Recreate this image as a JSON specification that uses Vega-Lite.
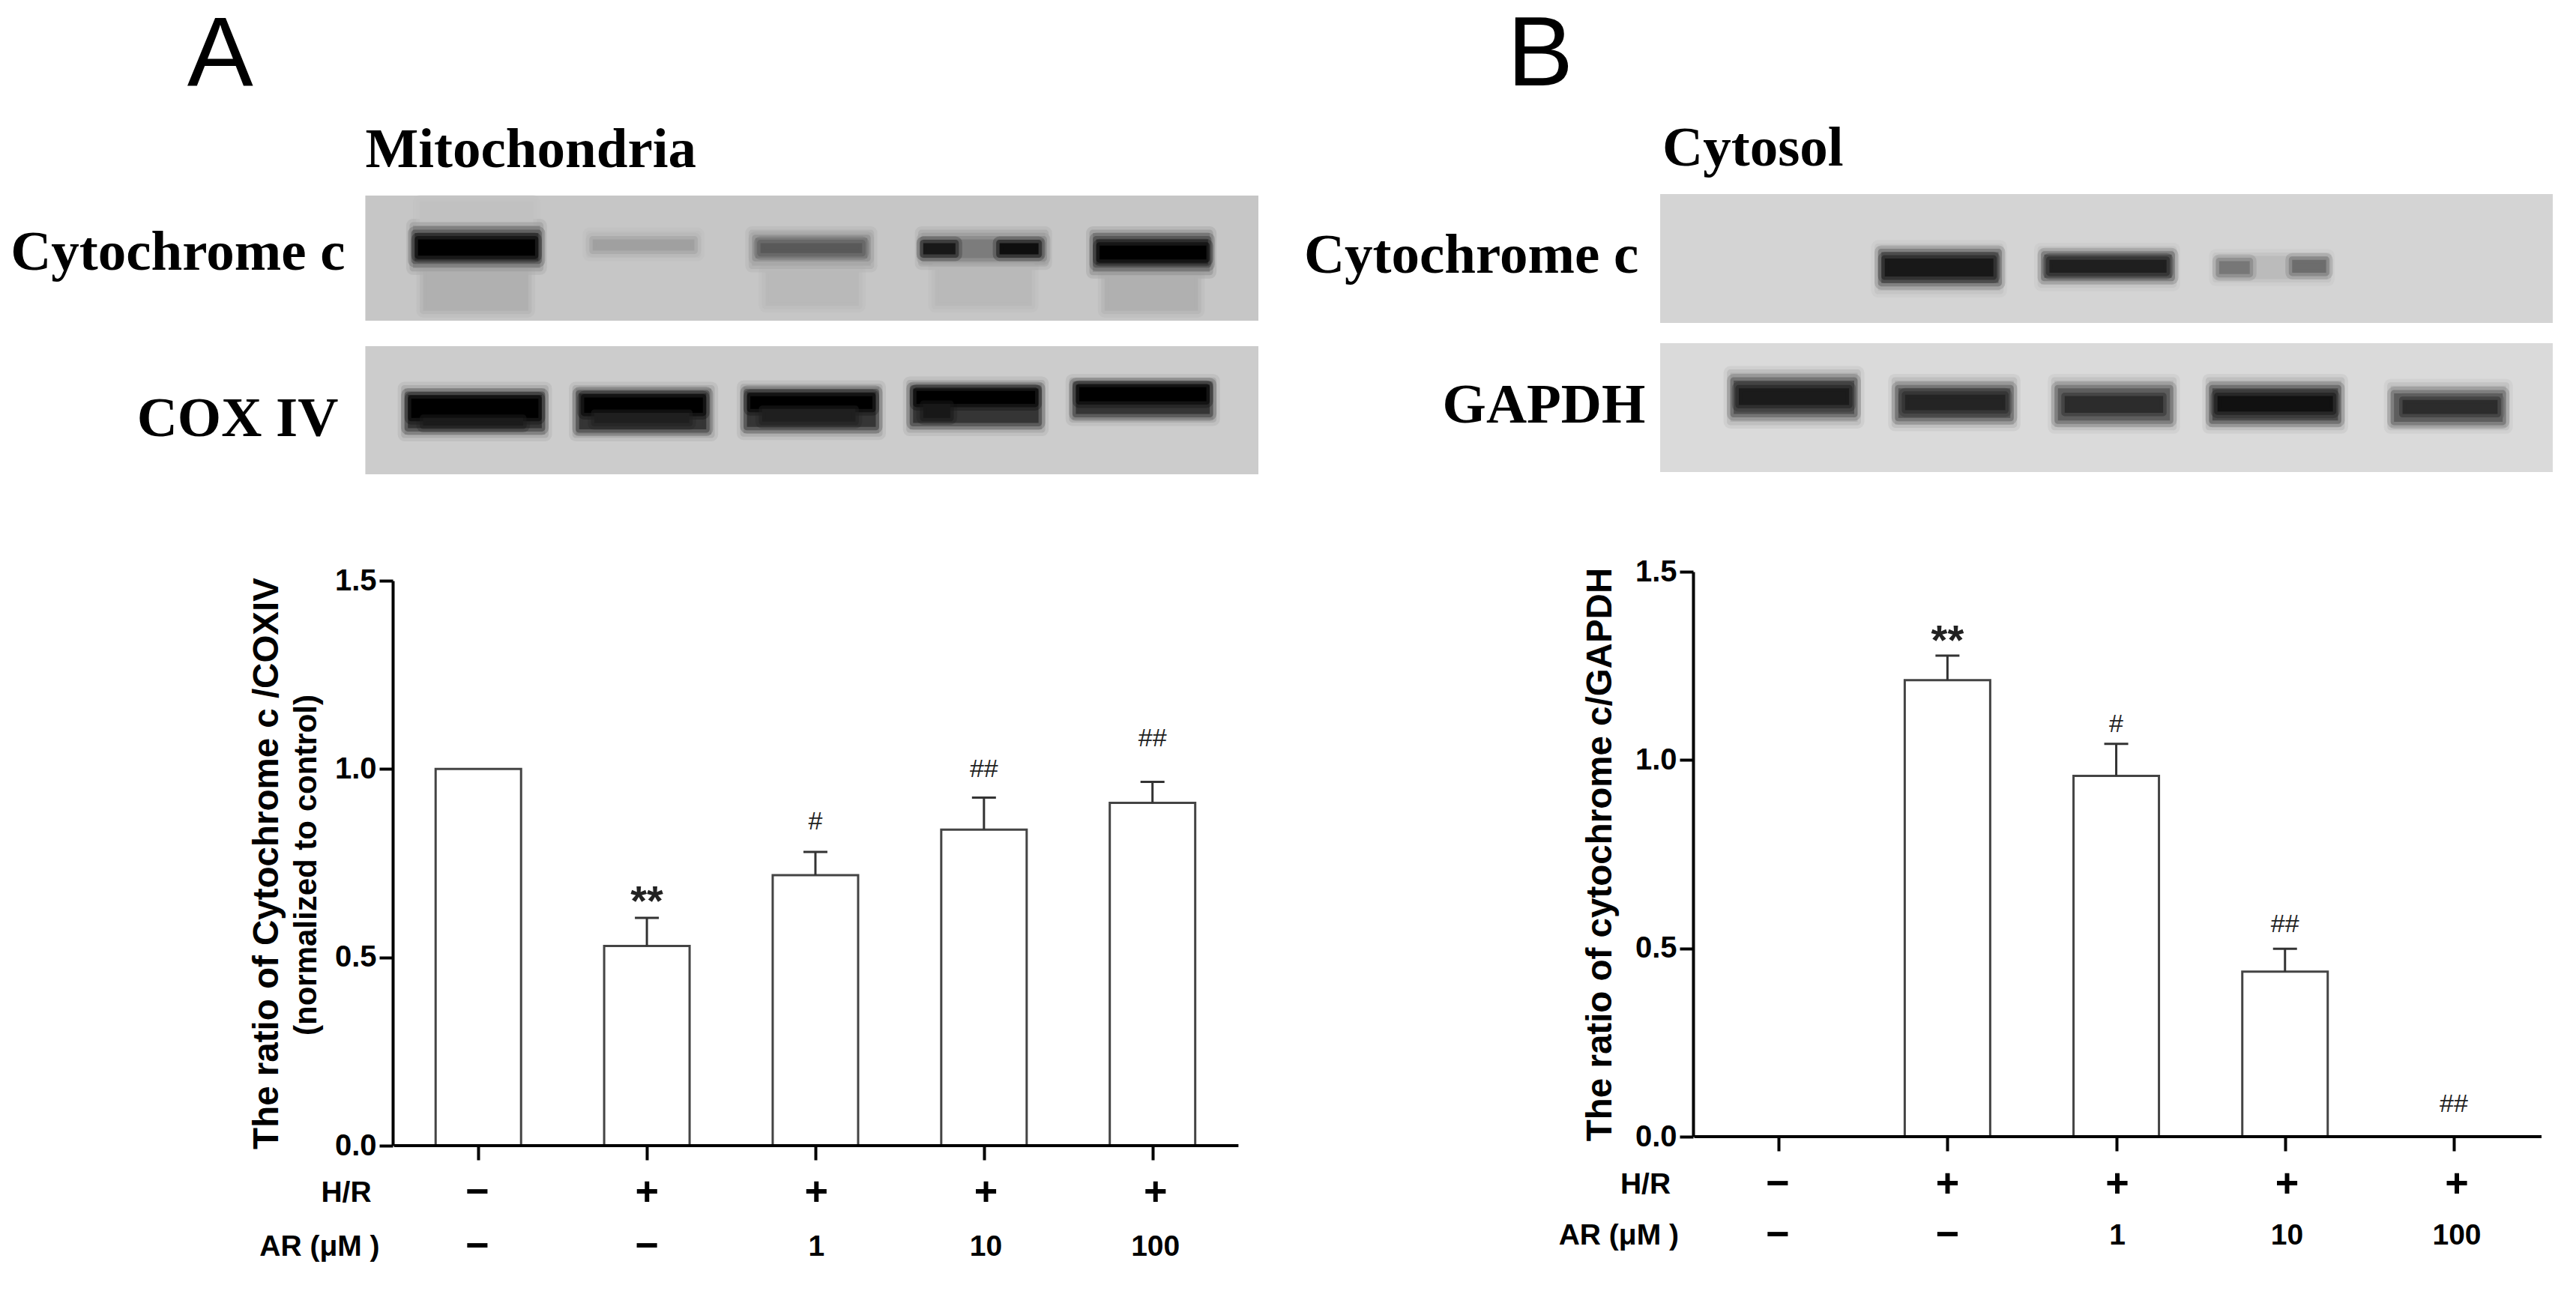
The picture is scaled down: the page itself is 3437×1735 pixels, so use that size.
{
"$schema":"https://vega.github.io/schema/vega-lite/v6.json",
"background":"white","padding":0,"autosize":"pad",
"config":{"view":{"stroke":null},"axis":{"grid":false},"concat":{"spacing":0},"text":{"font":"Liberation Sans"}},
"datasets":{
"bands":[
{"blot":"A1","x0":0.339,"x1":5.607,"y0":0,"y1":100,"d":20},
{"blot":"A1","x0":0.66,"x1":1.33,"y0":5,"y1":24,"d":22},
{"blot":"A1","x0":0.68,"x1":1.3,"y0":58,"y1":92,"d":28},
{"blot":"A1","x0":0.62,"x1":1.37,"y0":24,"y1":58,"d":38},
{"blot":"A1","x0":0.63,"x1":1.36,"y0":30,"y1":52,"d":72},
{"blot":"A1","x0":0.65,"x1":1.34,"y0":35,"y1":48,"d":100},
{"blot":"A1","x0":1.66,"x1":2.3,"y0":31,"y1":47,"d":25},
{"blot":"A1","x0":1.68,"x1":2.28,"y0":35,"y1":44,"d":34},
{"blot":"A1","x0":2.7,"x1":3.25,"y0":60,"y1":88,"d":25},
{"blot":"A1","x0":2.62,"x1":3.32,"y0":30,"y1":56,"d":31},
{"blot":"A1","x0":2.64,"x1":3.3,"y0":34,"y1":50,"d":45},
{"blot":"A1","x0":2.67,"x1":3.27,"y0":38,"y1":46,"d":62},
{"blot":"A1","x0":3.7,"x1":4.27,"y0":56,"y1":88,"d":25},
{"blot":"A1","x0":3.62,"x1":4.35,"y0":30,"y1":54,"d":34},
{"blot":"A1","x0":3.63,"x1":4.34,"y0":35,"y1":50,"d":48},
{"blot":"A1","x0":3.63,"x1":3.82,"y0":38,"y1":47,"d":92},
{"blot":"A1","x0":4.08,"x1":4.31,"y0":38,"y1":47,"d":96},
{"blot":"A1","x0":4.7,"x1":5.25,"y0":62,"y1":92,"d":28},
{"blot":"A1","x0":4.63,"x1":5.32,"y0":30,"y1":61,"d":42},
{"blot":"A1","x0":4.65,"x1":5.31,"y0":35,"y1":55,"d":75},
{"blot":"A1","x0":4.67,"x1":5.3,"y0":40,"y1":51,"d":100},
{"blot":"A2","x0":0.339,"x1":5.607,"y0":0,"y1":100,"d":18},
{"blot":"A2","x0":0.57,"x1":1.4,"y0":33,"y1":69,"d":36},
{"blot":"A2","x0":0.59,"x1":1.38,"y0":38,"y1":64,"d":78},
{"blot":"A2","x0":0.61,"x1":1.36,"y0":41,"y1":56,"d":100},
{"blot":"A2","x0":0.68,"x1":1.27,"y0":56,"y1":62,"d":90},
{"blot":"A2","x0":1.58,"x1":2.38,"y0":33,"y1":69,"d":36},
{"blot":"A2","x0":1.6,"x1":2.35,"y0":37,"y1":65,"d":78},
{"blot":"A2","x0":1.63,"x1":2.33,"y0":40,"y1":52,"d":100},
{"blot":"A2","x0":1.69,"x1":2.25,"y0":52,"y1":60,"d":88},
{"blot":"A2","x0":2.57,"x1":3.37,"y0":32,"y1":68,"d":36},
{"blot":"A2","x0":2.59,"x1":3.35,"y0":36,"y1":63,"d":78},
{"blot":"A2","x0":2.61,"x1":3.33,"y0":39,"y1":49,"d":100},
{"blot":"A2","x0":2.68,"x1":3.23,"y0":49,"y1":59,"d":88},
{"blot":"A2","x0":3.55,"x1":4.33,"y0":29,"y1":65,"d":36},
{"blot":"A2","x0":3.57,"x1":4.31,"y0":33,"y1":60,"d":78},
{"blot":"A2","x0":3.59,"x1":4.29,"y0":35,"y1":45,"d":100},
{"blot":"A2","x0":3.63,"x1":3.79,"y0":45,"y1":56,"d":92},
{"blot":"A2","x0":4.51,"x1":5.34,"y0":27,"y1":57,"d":36},
{"blot":"A2","x0":4.53,"x1":5.32,"y0":30,"y1":53,"d":78},
{"blot":"A2","x0":4.55,"x1":5.3,"y0":32,"y1":43,"d":100},
{"blot":"B1","x0":0.307,"x1":5.565,"y0":0,"y1":100,"d":15},
{"blot":"B1","x0":1.59,"x1":2.31,"y0":41,"y1":75,"d":24},
{"blot":"B1","x0":1.61,"x1":2.3,"y0":45,"y1":69,"d":60},
{"blot":"B1","x0":1.63,"x1":2.27,"y0":50,"y1":64,"d":92},
{"blot":"B1","x0":2.55,"x1":3.33,"y0":43,"y1":70,"d":24},
{"blot":"B1","x0":2.57,"x1":3.32,"y0":47,"y1":65,"d":60},
{"blot":"B1","x0":2.6,"x1":3.29,"y0":51,"y1":61,"d":88},
{"blot":"B1","x0":3.58,"x1":4.24,"y0":48,"y1":66,"d":24},
{"blot":"B1","x0":3.6,"x1":3.78,"y0":52,"y1":62,"d":50},
{"blot":"B1","x0":4.03,"x1":4.23,"y0":51,"y1":61,"d":54},
{"blot":"B2","x0":0.307,"x1":5.565,"y0":0,"y1":100,"d":13},
{"blot":"B2","x0":0.72,"x1":1.47,"y0":23,"y1":61,"d":28},
{"blot":"B2","x0":0.74,"x1":1.45,"y0":29,"y1":55,"d":66},
{"blot":"B2","x0":0.77,"x1":1.42,"y0":35,"y1":48,"d":90},
{"blot":"B2","x0":1.69,"x1":2.39,"y0":29,"y1":63,"d":28},
{"blot":"B2","x0":1.71,"x1":2.37,"y0":35,"y1":58,"d":64},
{"blot":"B2","x0":1.75,"x1":2.34,"y0":40,"y1":52,"d":86},
{"blot":"B2","x0":2.63,"x1":3.33,"y0":29,"y1":65,"d":26},
{"blot":"B2","x0":2.65,"x1":3.31,"y0":35,"y1":60,"d":60},
{"blot":"B2","x0":2.69,"x1":3.27,"y0":41,"y1":54,"d":82},
{"blot":"B2","x0":3.54,"x1":4.32,"y0":29,"y1":65,"d":28},
{"blot":"B2","x0":3.56,"x1":4.3,"y0":35,"y1":60,"d":68},
{"blot":"B2","x0":3.59,"x1":4.27,"y0":41,"y1":53,"d":95},
{"blot":"B2","x0":4.61,"x1":5.29,"y0":33,"y1":65,"d":26},
{"blot":"B2","x0":4.63,"x1":5.27,"y0":39,"y1":61,"d":60},
{"blot":"B2","x0":4.68,"x1":5.24,"y0":44,"y1":55,"d":82}
],
"barsA":[
{"lane":1,"ratio":1.0,"upper":1.0},
{"lane":2,"ratio":0.53,"upper":0.605,"sig":"**","kind":"star","sigy":0.646},
{"lane":3,"ratio":0.718,"upper":0.78,"sig":"#","kind":"hash","sigy":0.859},
{"lane":4,"ratio":0.839,"upper":0.924,"sig":"##","kind":"hash","sigy":0.999},
{"lane":5,"ratio":0.91,"upper":0.966,"sig":"##","kind":"hash","sigy":1.08}
],
"barsB":[
{"lane":1,"ratio":0,"upper":0},
{"lane":2,"ratio":1.212,"upper":1.277,"sig":"**","kind":"star","sigy":1.315},
{"lane":3,"ratio":0.958,"upper":1.043,"sig":"#","kind":"hash","sigy":1.094},
{"lane":4,"ratio":0.438,"upper":0.499,"sig":"##","kind":"hash","sigy":0.563},
{"lane":5,"ratio":0,"upper":0,"sig":"##","kind":"hash","sigy":0.086}
],
"table":[
{"row":"hr","lane":1,"t":"−","kind":"sign"},{"row":"hr","lane":2,"t":"+","kind":"sign"},{"row":"hr","lane":3,"t":"+","kind":"sign"},{"row":"hr","lane":4,"t":"+","kind":"sign"},{"row":"hr","lane":5,"t":"+","kind":"sign"},
{"row":"ar","lane":1,"t":"−","kind":"sign"},{"row":"ar","lane":2,"t":"−","kind":"sign"},{"row":"ar","lane":3,"t":"1","kind":"num"},{"row":"ar","lane":4,"t":"10","kind":"num"},{"row":"ar","lane":5,"t":"100","kind":"num"}
]
},
"hconcat":[
{"vconcat":[
 {"width":1710,"height":234,"data":{"values":[{"row":"panel","lane":-0.517,"t":"A"}]},"layer":[
  {"mark":{"type":"text","fontSize":132,"dy":16},"encoding":{"x":{"field":"lane","type":"quantitative","scale":{"domain":[-1.816,5.744],"nice":false,"zero":false},"axis":null},"y":{"field":"row","type":"nominal","scale":{"domain":["panel","fraction"]},"axis":null},"text":{"field":"t"}}},
  {"data":{"values":[{"row":"fraction","lane":0.339,"t":"Mitochondria"}]},"mark":{"type":"text","align":"left","font":"Liberation Serif","fontWeight":"bold","fontSize":75,"dy":24},"encoding":{"x":{"field":"lane","type":"quantitative"},"y":{"field":"row","type":"nominal"},"text":{"field":"t"}}}
 ]},
 {"width":1710,"height":174,"layer":[
  {"data":{"name":"bands"},"transform":[{"filter":"datum.blot==='A1'"}],
   "encoding":{"x":{"field":"x0","type":"quantitative","scale":{"domain":[-1.816,5.744],"nice":false,"zero":false},"axis":null},"x2":{"field":"x1"},"y":{"field":"y0","type":"quantitative","scale":{"domain":[0,104.2],"reverse":true,"nice":false},"axis":null},"y2":{"field":"y1"},"color":{"field":"d","type":"quantitative","scale":{"domain":[0,100],"range":["#ffffff","#000000"]},"legend":null},"stroke":{"field":"d","type":"quantitative","scale":{"domain":[0,100],"range":["#ffffff","#000000"]},"legend":null}},
   "layer":[
    {"transform":[{"filter":"datum.x1-datum.x0>=2"}],"mark":{"type":"rect","strokeWidth":0}},
    {"transform":[{"filter":"datum.x1-datum.x0<2 && datum.d<50"}],"layer":[{"mark":{"type":"rect","fillOpacity":0,"strokeWidth":18,"strokeOpacity":0.25,"strokeJoin":"round"}},{"mark":{"type":"rect","strokeWidth":9,"strokeOpacity":0.5,"strokeJoin":"round"}}]},
    {"transform":[{"filter":"datum.x1-datum.x0<2 && datum.d>=50 && datum.d<85"}],"layer":[{"mark":{"type":"rect","fillOpacity":0,"strokeWidth":18,"strokeOpacity":0.25,"strokeJoin":"round"}},{"mark":{"type":"rect","strokeWidth":9,"strokeOpacity":0.5,"strokeJoin":"round"}}]},
    {"transform":[{"filter":"datum.x1-datum.x0<2 && datum.d>=85"}],"layer":[{"mark":{"type":"rect","fillOpacity":0,"strokeWidth":18,"strokeOpacity":0.25,"strokeJoin":"round"}},{"mark":{"type":"rect","strokeWidth":9,"strokeOpacity":0.5,"strokeJoin":"round"}}]}
   ]},
  {"data":{"values":[{"lane":0.22,"pos":45.5,"t":"Cytochrome c"}]},"mark":{"type":"text","align":"right","font":"Liberation Serif","fontWeight":"bold","fontSize":75},"encoding":{"x":{"field":"lane","type":"quantitative"},"y":{"field":"pos","type":"quantitative"},"text":{"field":"t"}}}
 ]},
 {"width":1710,"height":286,"layer":[
  {"data":{"name":"bands"},"transform":[{"filter":"datum.blot==='A2'"}],
   "encoding":{"x":{"field":"x0","type":"quantitative","scale":{"domain":[-1.816,5.744],"nice":false,"zero":false},"axis":null},"x2":{"field":"x1"},"y":{"field":"y0","type":"quantitative","scale":{"domain":[0,167.3],"reverse":true,"nice":false},"axis":null},"y2":{"field":"y1"},"color":{"field":"d","type":"quantitative","scale":{"domain":[0,100],"range":["#ffffff","#000000"]},"legend":null},"stroke":{"field":"d","type":"quantitative","scale":{"domain":[0,100],"range":["#ffffff","#000000"]},"legend":null}},
   "layer":[
    {"transform":[{"filter":"datum.x1-datum.x0>=2"}],"mark":{"type":"rect","strokeWidth":0}},
    {"transform":[{"filter":"datum.x1-datum.x0<2 && datum.d<50"}],"layer":[{"mark":{"type":"rect","fillOpacity":0,"strokeWidth":18,"strokeOpacity":0.25,"strokeJoin":"round"}},{"mark":{"type":"rect","strokeWidth":9,"strokeOpacity":0.5,"strokeJoin":"round"}}]},
    {"transform":[{"filter":"datum.x1-datum.x0<2 && datum.d>=50 && datum.d<85"}],"layer":[{"mark":{"type":"rect","fillOpacity":0,"strokeWidth":18,"strokeOpacity":0.25,"strokeJoin":"round"}},{"mark":{"type":"rect","strokeWidth":9,"strokeOpacity":0.5,"strokeJoin":"round"}}]},
    {"transform":[{"filter":"datum.x1-datum.x0<2 && datum.d>=85"}],"layer":[{"mark":{"type":"rect","fillOpacity":0,"strokeWidth":18,"strokeOpacity":0.25,"strokeJoin":"round"}},{"mark":{"type":"rect","strokeWidth":9,"strokeOpacity":0.5,"strokeJoin":"round"}}]}
   ]},
  {"data":{"values":[{"lane":0.18,"pos":57,"t":"COX IV"}]},"mark":{"type":"text","align":"right","font":"Liberation Serif","fontWeight":"bold","fontSize":75},"encoding":{"x":{"field":"lane","type":"quantitative"},"y":{"field":"pos","type":"quantitative"},"text":{"field":"t"}}}
 ]},
 {"width":1710,"height":754,"data":{"name":"barsA"},"layer":[
  {"mark":{"type":"bar","size":114,"fill":"white","stroke":"#444444","strokeWidth":3},"encoding":{"x":{"field":"lane","type":"quantitative","scale":{"domain":[-1.816,5.744],"nice":false,"zero":false},"axis":{"values":[1,2,3,4,5],"labels":false,"domain":false,"ticks":true,"tickSize":19,"tickWidth":4,"tickColor":"black","title":null,"grid":false}},"y":{"field":"ratio","type":"quantitative","scale":{"domain":[0,1.5],"nice":false},"axis":{"values":[0,0.5,1,1.5],"format":".1f","offset":-524,"domainWidth":4,"domainColor":"black","tickColor":"black","tickSize":18,"tickWidth":4,"labelFont":"Liberation Sans","labelFontWeight":"bold","labelFontSize":40,"labelColor":"black","labelPadding":4,"title":"The ratio of Cytochrome c /COXIV","titleFont":"Liberation Sans","titleFontWeight":"bold","titleFontSize":47.5,"titleColor":"black","titlePadding":66}}}},
  {"mark":{"type":"rule","stroke":"#333333","strokeWidth":3},"encoding":{"x":{"field":"lane","type":"quantitative"},"y":{"field":"ratio","type":"quantitative"},"y2":{"field":"upper"}}},
  {"mark":{"type":"tick","orient":"horizontal","size":32,"thickness":3,"color":"#333333","opacity":1},"transform":[{"filter":"datum.lane>1"}],"encoding":{"x":{"field":"lane","type":"quantitative"},"y":{"field":"upper","type":"quantitative"}}},
  {"data":{"values":[{"start":0.5,"end":5.51,"base":0}]},"mark":{"type":"rule","color":"black","strokeWidth":4},"encoding":{"x":{"field":"start","type":"quantitative"},"x2":{"field":"end"},"y":{"field":"base","type":"quantitative"}}},
  {"transform":[{"filter":"datum.kind==='star'"}],"mark":{"type":"text","fontWeight":"bold","fontSize":56,"color":"#222222"},"encoding":{"x":{"field":"lane","type":"quantitative"},"y":{"field":"sigy","type":"quantitative"},"text":{"field":"sig"}}},
  {"transform":[{"filter":"datum.kind==='hash'"}],"mark":{"type":"text","fontSize":34,"color":"#222222"},"encoding":{"x":{"field":"lane","type":"quantitative"},"y":{"field":"sigy","type":"quantitative"},"text":{"field":"sig"}}},
  {"data":{"values":[{"lane":-0.02,"ratio":0.745,"t":"(normalized to control)"}]},"mark":{"type":"text","angle":270,"font":"Liberation Sans","fontWeight":"bold","fontSize":42},"encoding":{"x":{"field":"lane","type":"quantitative"},"y":{"field":"ratio","type":"quantitative"},"text":{"field":"t"}}}
 ]},
 {"width":1710,"height":144,"layer":[
  {"data":{"name":"table"},"transform":[{"filter":"datum.kind==='sign'"}],"mark":{"type":"text","fontWeight":"bold","color":"black","fontSize":54},"encoding":{"x":{"field":"lane","type":"quantitative","scale":{"domain":[-1.816,5.744],"nice":false,"zero":false},"axis":null},"y":{"field":"row","type":"nominal","scale":{"domain":["hr","ar"]},"axis":null},"text":{"field":"t"}}},
  {"data":{"name":"table"},"transform":[{"filter":"datum.kind==='num'"}],"mark":{"type":"text","fontWeight":"bold","color":"black","fontSize":39},"encoding":{"x":{"field":"lane","type":"quantitative"},"y":{"field":"row","type":"nominal"},"text":{"field":"t"}}},
  {"data":{"values":[{"row":"hr","lane":0.375,"t":"H/R"},{"row":"ar","lane":0.4235,"t":"AR (μM )"}]},"mark":{"type":"text","align":"right","fontWeight":"bold","fontSize":39},"encoding":{"x":{"field":"lane","type":"quantitative"},"y":{"field":"row","type":"nominal"},"text":{"field":"t"}}}
 ]}
],"spacing":27,"bounds":"flush"},
{"vconcat":[
 {"width":1727,"height":232,"data":{"values":[{"row":"panel","lane":-0.4,"t":"B"}]},"layer":[
  {"mark":{"type":"text","fontSize":132,"dy":16},"encoding":{"x":{"field":"lane","type":"quantitative","scale":{"domain":[-1.923,5.702],"nice":false,"zero":false},"axis":null},"y":{"field":"row","type":"nominal","scale":{"domain":["panel","fraction"]},"axis":null},"text":{"field":"t"}}},
  {"data":{"values":[{"row":"fraction","lane":0.32,"t":"Cytosol"}]},"mark":{"type":"text","align":"left","font":"Liberation Serif","fontWeight":"bold","fontSize":75,"dy":24},"encoding":{"x":{"field":"lane","type":"quantitative"},"y":{"field":"row","type":"nominal"},"text":{"field":"t"}}}
 ]},
 {"width":1727,"height":172,"layer":[
  {"data":{"name":"bands"},"transform":[{"filter":"datum.blot==='B1'"}],
   "encoding":{"x":{"field":"x0","type":"quantitative","scale":{"domain":[-1.923,5.702],"nice":false,"zero":false},"axis":null},"x2":{"field":"x1"},"y":{"field":"y0","type":"quantitative","scale":{"domain":[0,100],"reverse":true,"nice":false},"axis":null},"y2":{"field":"y1"},"color":{"field":"d","type":"quantitative","scale":{"domain":[0,100],"range":["#ffffff","#000000"]},"legend":null},"stroke":{"field":"d","type":"quantitative","scale":{"domain":[0,100],"range":["#ffffff","#000000"]},"legend":null}},
   "layer":[
    {"transform":[{"filter":"datum.x1-datum.x0>=2"}],"mark":{"type":"rect","strokeWidth":0}},
    {"transform":[{"filter":"datum.x1-datum.x0<2 && datum.d<50"}],"layer":[{"mark":{"type":"rect","fillOpacity":0,"strokeWidth":18,"strokeOpacity":0.25,"strokeJoin":"round"}},{"mark":{"type":"rect","strokeWidth":9,"strokeOpacity":0.5,"strokeJoin":"round"}}]},
    {"transform":[{"filter":"datum.x1-datum.x0<2 && datum.d>=50 && datum.d<85"}],"layer":[{"mark":{"type":"rect","fillOpacity":0,"strokeWidth":18,"strokeOpacity":0.25,"strokeJoin":"round"}},{"mark":{"type":"rect","strokeWidth":9,"strokeOpacity":0.5,"strokeJoin":"round"}}]},
    {"transform":[{"filter":"datum.x1-datum.x0<2 && datum.d>=85"}],"layer":[{"mark":{"type":"rect","fillOpacity":0,"strokeWidth":18,"strokeOpacity":0.25,"strokeJoin":"round"}},{"mark":{"type":"rect","strokeWidth":9,"strokeOpacity":0.5,"strokeJoin":"round"}}]}
   ]},
  {"data":{"values":[{"lane":0.18,"pos":47.7,"t":"Cytochrome c"}]},"mark":{"type":"text","align":"right","font":"Liberation Serif","fontWeight":"bold","fontSize":75},"encoding":{"x":{"field":"lane","type":"quantitative"},"y":{"field":"pos","type":"quantitative"},"text":{"field":"t"}}}
 ]},
 {"width":1727,"height":278,"layer":[
  {"data":{"name":"bands"},"transform":[{"filter":"datum.blot==='B2'"}],
   "encoding":{"x":{"field":"x0","type":"quantitative","scale":{"domain":[-1.923,5.702],"nice":false,"zero":false},"axis":null},"x2":{"field":"x1"},"y":{"field":"y0","type":"quantitative","scale":{"domain":[0,161.6],"reverse":true,"nice":false},"axis":null},"y2":{"field":"y1"},"color":{"field":"d","type":"quantitative","scale":{"domain":[0,100],"range":["#ffffff","#000000"]},"legend":null},"stroke":{"field":"d","type":"quantitative","scale":{"domain":[0,100],"range":["#ffffff","#000000"]},"legend":null}},
   "layer":[
    {"transform":[{"filter":"datum.x1-datum.x0>=2"}],"mark":{"type":"rect","strokeWidth":0}},
    {"transform":[{"filter":"datum.x1-datum.x0<2 && datum.d<50"}],"layer":[{"mark":{"type":"rect","fillOpacity":0,"strokeWidth":18,"strokeOpacity":0.25,"strokeJoin":"round"}},{"mark":{"type":"rect","strokeWidth":9,"strokeOpacity":0.5,"strokeJoin":"round"}}]},
    {"transform":[{"filter":"datum.x1-datum.x0<2 && datum.d>=50 && datum.d<85"}],"layer":[{"mark":{"type":"rect","fillOpacity":0,"strokeWidth":18,"strokeOpacity":0.25,"strokeJoin":"round"}},{"mark":{"type":"rect","strokeWidth":9,"strokeOpacity":0.5,"strokeJoin":"round"}}]},
    {"transform":[{"filter":"datum.x1-datum.x0<2 && datum.d>=85"}],"layer":[{"mark":{"type":"rect","fillOpacity":0,"strokeWidth":18,"strokeOpacity":0.25,"strokeJoin":"round"}},{"mark":{"type":"rect","strokeWidth":9,"strokeOpacity":0.5,"strokeJoin":"round"}}]}
   ]},
  {"data":{"values":[{"lane":0.22,"pos":48,"t":"GAPDH"}]},"mark":{"type":"text","align":"right","font":"Liberation Serif","fontWeight":"bold","fontSize":75},"encoding":{"x":{"field":"lane","type":"quantitative"},"y":{"field":"pos","type":"quantitative"},"text":{"field":"t"}}}
 ]},
 {"width":1727,"height":754,"data":{"name":"barsB"},"layer":[
  {"transform":[{"filter":"datum.ratio>0"}],"mark":{"type":"bar","size":114,"fill":"white","stroke":"#444444","strokeWidth":3},"encoding":{"x":{"field":"lane","type":"quantitative","scale":{"domain":[-1.923,5.702],"nice":false,"zero":false},"axis":{"values":[1,2,3,4,5],"labels":false,"domain":false,"ticks":true,"tickSize":19,"tickWidth":4,"tickColor":"black","title":null,"grid":false}},"y":{"field":"ratio","type":"quantitative","scale":{"domain":[0,1.5],"nice":false},"axis":{"values":[0,0.5,1,1.5],"format":".1f","offset":-549,"domainWidth":4,"domainColor":"black","tickColor":"black","tickSize":18,"tickWidth":4,"labelFont":"Liberation Sans","labelFontWeight":"bold","labelFontSize":40,"labelColor":"black","labelPadding":4,"title":"The ratio of cytochrome c/GAPDH","titleFont":"Liberation Sans","titleFontWeight":"bold","titleFontSize":47.5,"titleColor":"black","titlePadding":22}}}},
  {"transform":[{"filter":"datum.ratio>0"}],"mark":{"type":"rule","stroke":"#333333","strokeWidth":3},"encoding":{"x":{"field":"lane","type":"quantitative"},"y":{"field":"ratio","type":"quantitative"},"y2":{"field":"upper"}}},
  {"transform":[{"filter":"datum.ratio>0"}],"mark":{"type":"tick","orient":"horizontal","size":32,"thickness":3,"color":"#333333","opacity":1},"encoding":{"x":{"field":"lane","type":"quantitative"},"y":{"field":"upper","type":"quantitative"}}},
  {"data":{"values":[{"start":0.5,"end":5.52,"base":0}]},"mark":{"type":"rule","color":"black","strokeWidth":4},"encoding":{"x":{"field":"start","type":"quantitative"},"x2":{"field":"end"},"y":{"field":"base","type":"quantitative"}}},
  {"transform":[{"filter":"datum.kind==='star'"}],"mark":{"type":"text","fontWeight":"bold","fontSize":56,"color":"#222222"},"encoding":{"x":{"field":"lane","type":"quantitative"},"y":{"field":"sigy","type":"quantitative"},"text":{"field":"sig"}}},
  {"transform":[{"filter":"datum.kind==='hash'"}],"mark":{"type":"text","fontSize":34,"color":"#222222"},"encoding":{"x":{"field":"lane","type":"quantitative"},"y":{"field":"sigy","type":"quantitative"},"text":{"field":"sig"}}}
 ]},
 {"width":1727,"height":136,"layer":[
  {"data":{"name":"table"},"transform":[{"filter":"datum.kind==='sign'"}],"mark":{"type":"text","fontWeight":"bold","color":"black","dy":3,"fontSize":54},"encoding":{"x":{"field":"lane","type":"quantitative","scale":{"domain":[-1.923,5.702],"nice":false,"zero":false},"axis":null},"y":{"field":"row","type":"nominal","scale":{"domain":["hr","ar"]},"axis":null},"text":{"field":"t"}}},
  {"data":{"name":"table"},"transform":[{"filter":"datum.kind==='num'"}],"mark":{"type":"text","fontWeight":"bold","color":"black","dy":3,"fontSize":39},"encoding":{"x":{"field":"lane","type":"quantitative"},"y":{"field":"row","type":"nominal"},"text":{"field":"t"}}},
  {"data":{"values":[{"row":"hr","lane":0.369,"t":"H/R"},{"row":"ar","lane":0.417,"t":"AR (μM )"}]},"mark":{"type":"text","align":"right","fontWeight":"bold","fontSize":39,"dy":3},"encoding":{"x":{"field":"lane","type":"quantitative"},"y":{"field":"row","type":"nominal"},"text":{"field":"t"}}}
 ]}
],"spacing":27,"bounds":"flush"}
],"spacing":0
}
